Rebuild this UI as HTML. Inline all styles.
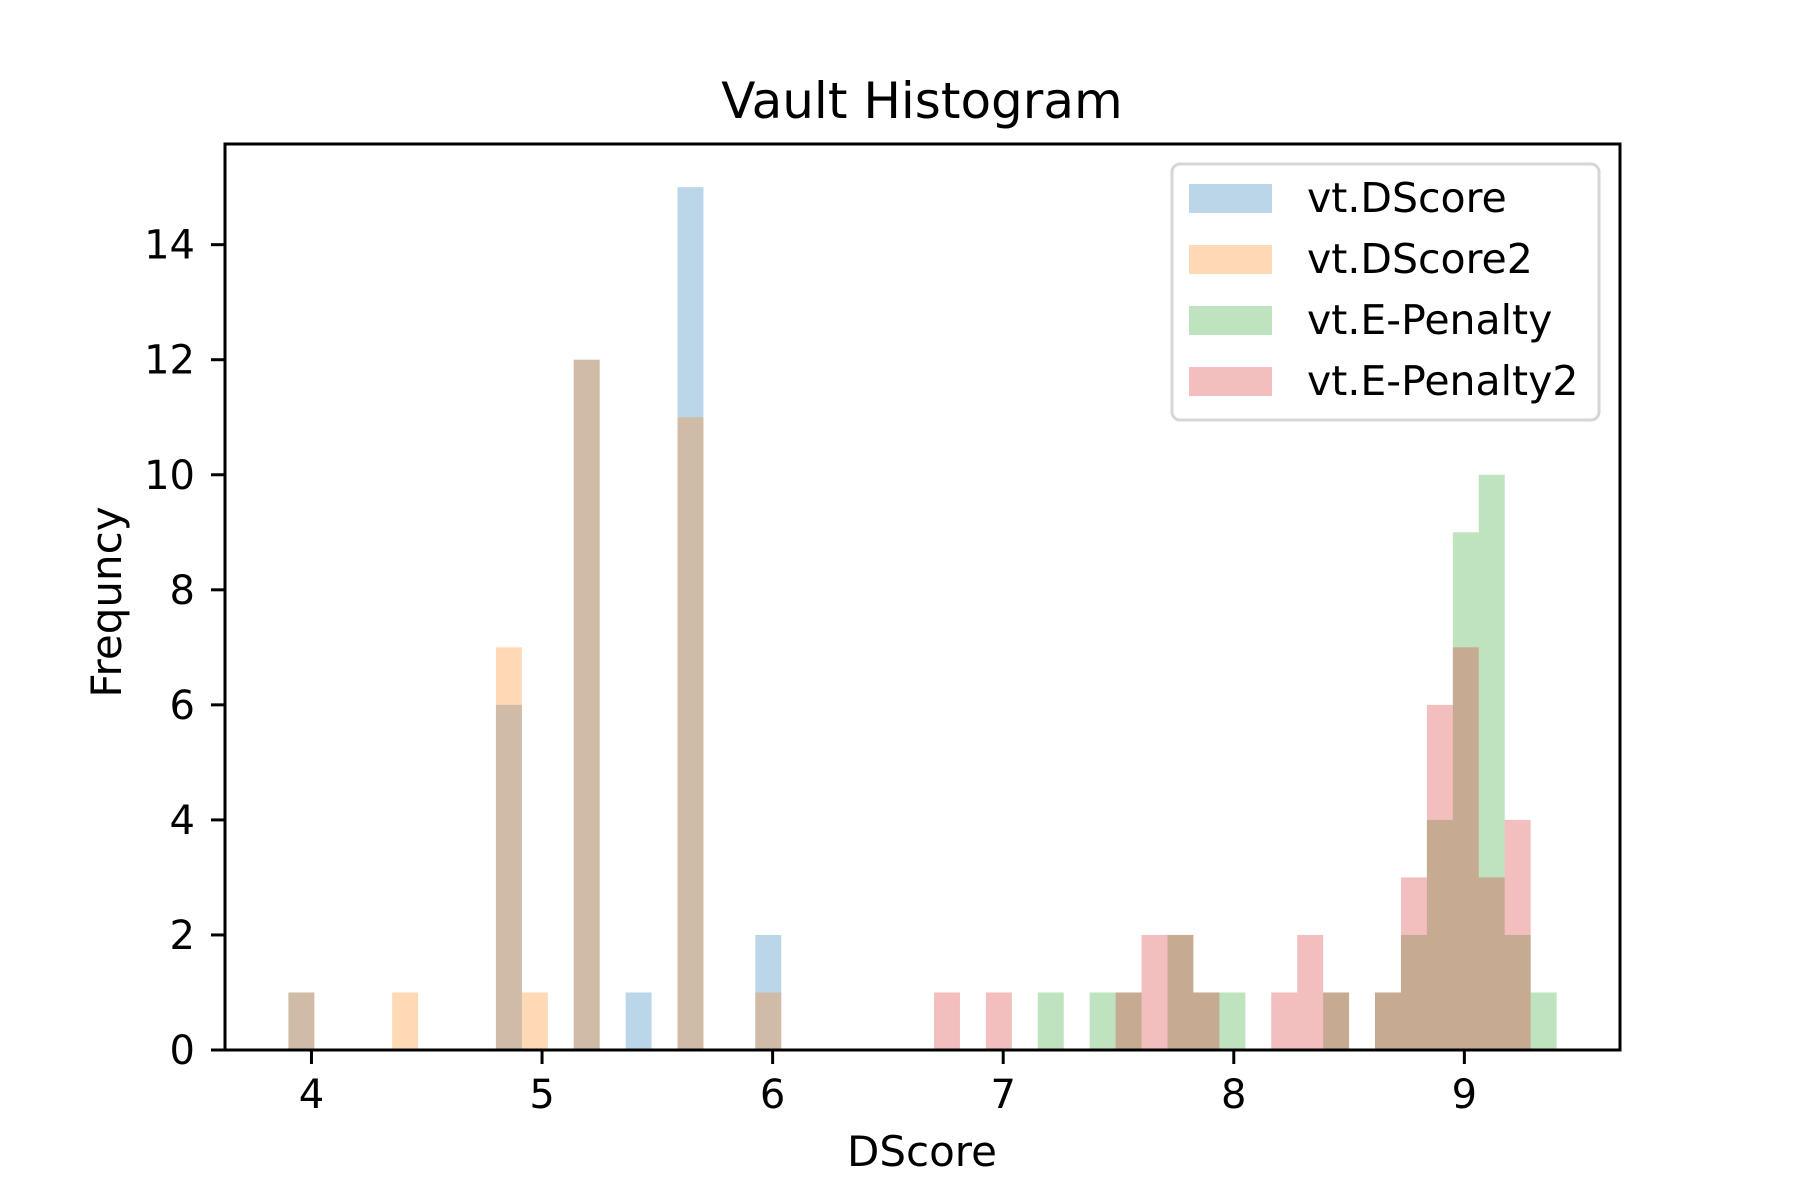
<!DOCTYPE html>
<html><head><meta charset="utf-8"><style>
html,body{margin:0;padding:0;background:#fff}
svg{display:block;font-family:"DejaVu Sans","Liberation Sans",sans-serif}
</style></head><body>
<svg id="chart" width="1800" height="1200" viewBox="0 0 1800 1200" xmlns="http://www.w3.org/2000/svg">
<rect width="1800" height="1200" fill="#fff"/>
<text x="922" y="118" font-size="50" text-anchor="middle">Vault Histogram</text>
<g id="bars"></g>
<g id="axes"></g>
<text x="922" y="1166" font-size="42" text-anchor="middle">DScore</text>
<text transform="translate(121,602) rotate(-90)" font-size="42" text-anchor="middle">Frequncy</text>
<g>
<rect x="1172" y="164" width="427" height="256" rx="8" fill="#fff" fill-opacity="0.8" stroke="#d6d6d6" stroke-width="3"/>
<g id="legendItems"></g>
</g>
</svg>
<script>
const xTicks = [4, 5, 6, 7, 8, 9];
const yTicks = [0, 2, 4, 6, 8, 10, 12, 14];
const seriesNames = ["vt.DScore", "vt.DScore2", "vt.E-Penalty", "vt.E-Penalty2"];
const seriesColors = ["#1f77b4", "#ff7f0e", "#2ca02c", "#d62728"];
const binWidth = 0.1125;
const dBinStart = 3.9;
const eBinStart = 6.7;
const dscore  = [1,0,0,0,0,0,0,0,6,0,0,12,0,1,0,15,0,0,2];
const dscore2 = [1,0,0,0,1,0,0,0,7,1,0,12,0,0,0,11,0,0,1];
const ePenalty  = [0,0,0,0,1,0,1,1,0,2,1,1,0,0,0,1,0,1,2,4,9,10,2,1];
const ePenalty2 = [1,0,1,0,0,0,0,1,2,2,1,0,0,1,2,1,0,1,3,6,7,3,4,0];

const L=225,R=1620,T=144,B=1050;
const xMin=3.625,xMax=9.675,yMin=0,yMax=15.75;
const xs=v=>L+(v-xMin)/(xMax-xMin)*(R-L);
const ys=v=>B-(v-yMin)/(yMax-yMin)*(B-T);
const NS="http://www.w3.org/2000/svg";
function mk(tag,attrs,parent){const e=document.createElementNS(NS,tag);for(const k in attrs)e.setAttribute(k,attrs[k]);parent.appendChild(e);return e;}
const bars=document.getElementById('bars');
const all=[[dscore,dBinStart],[dscore2,dBinStart],[ePenalty,eBinStart],[ePenalty2,eBinStart]];
all.forEach(([arr,start],s)=>{
  arr.forEach((c,i)=>{
    if(!c)return;
    const x0=xs(start+i*binWidth),x1=xs(start+(i+1)*binWidth);
    const r=mk('rect',{x:x0,y:ys(c),width:x1-x0,height:ys(0)-ys(c),fill:seriesColors[s],'fill-opacity':0.3},bars);
    
    
  });
});
const axes=document.getElementById('axes');
const frame=mk('rect',{x:L,y:T,width:R-L,height:B-T,fill:'none',stroke:'#000','stroke-width':3},axes);


xTicks.forEach(t=>{
  const tk=mk('line',{x1:xs(t),x2:xs(t),y1:B,y2:B+14,stroke:'#000','stroke-width':3},axes);
  
  
  const lb=mk('text',{x:xs(t),y:B+58,'font-size':40,'text-anchor':'middle'},axes);
  lb.textContent=t;
  
  
});
yTicks.forEach(t=>{
  const tk=mk('line',{x1:L-14,x2:L,y1:ys(t),y2:ys(t),stroke:'#000','stroke-width':3},axes);
  
  
  const lb=mk('text',{x:L-30,y:ys(t)+14,'font-size':40,'text-anchor':'end'},axes);
  lb.textContent=t;
  
  
});
const lg=document.getElementById('legendItems');
seriesNames.forEach((n,i)=>{
  const cy=198+i*61;
  const p=mk('rect',{x:1189,y:cy-14,width:83,height:29,fill:seriesColors[i],'fill-opacity':0.3},lg);
  
  
  const tx=mk('text',{x:1307,y:cy+14,'font-size':41},lg);
  tx.textContent=n;
  
  
});
</script>
</body></html>
